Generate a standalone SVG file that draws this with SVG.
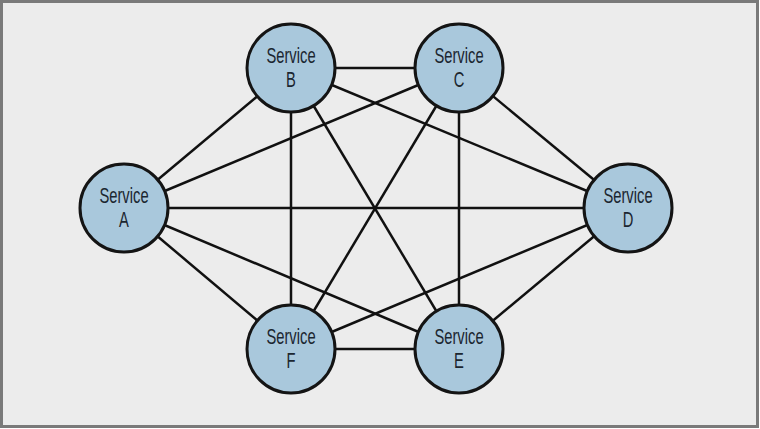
<svg xmlns="http://www.w3.org/2000/svg" width="760" height="429" viewBox="0 0 760 429">
<style>
.bg{fill:#ececec;stroke:#7a7a7a;stroke-width:3}
.edge{stroke:#111;stroke-width:2.5;fill:none}
.node circle{fill:#a9c8dc;stroke:#141414;stroke-width:3}
.node text{font-family:"Liberation Sans",Arial,sans-serif;font-size:22px;fill:#1b2630;text-anchor:middle}
</style>
<rect class="bg" x="1.5" y="1.5" width="756" height="425"/>
<g id="connectors">
<line class="edge" x1="124" y1="208" x2="291" y2="68"/>
<line class="edge" x1="124" y1="208" x2="459" y2="68"/>
<line class="edge" x1="124" y1="208" x2="628" y2="208"/>
<line class="edge" x1="124" y1="208" x2="291" y2="349"/>
<line class="edge" x1="124" y1="208" x2="459" y2="349"/>
<line class="edge" x1="291" y1="68" x2="459" y2="68"/>
<line class="edge" x1="291" y1="68" x2="628" y2="208"/>
<line class="edge" x1="291" y1="68" x2="291" y2="349"/>
<line class="edge" x1="291" y1="68" x2="459" y2="349"/>
<line class="edge" x1="459" y1="68" x2="628" y2="208"/>
<line class="edge" x1="459" y1="68" x2="291" y2="349"/>
<line class="edge" x1="459" y1="68" x2="459" y2="349"/>
<line class="edge" x1="628" y1="208" x2="291" y2="349"/>
<line class="edge" x1="628" y1="208" x2="459" y2="349"/>
<line class="edge" x1="291" y1="349" x2="459" y2="349"/>
</g>
<g id="node-a" class="node"><circle cx="124" cy="208" r="44"/><g transform="translate(124 208) scale(0.67 1)"><text x="0" y="-5">Service</text><text x="0" y="19">A</text></g></g>
<g id="node-b" class="node"><circle cx="291" cy="68" r="44"/><g transform="translate(291 68) scale(0.67 1)"><text x="0" y="-5">Service</text><text x="0" y="19">B</text></g></g>
<g id="node-c" class="node"><circle cx="459" cy="68" r="44"/><g transform="translate(459 68) scale(0.67 1)"><text x="0" y="-5">Service</text><text x="0" y="19">C</text></g></g>
<g id="node-d" class="node"><circle cx="628" cy="208" r="44"/><g transform="translate(628 208) scale(0.67 1)"><text x="0" y="-5">Service</text><text x="0" y="19">D</text></g></g>
<g id="node-f" class="node"><circle cx="291" cy="349" r="44"/><g transform="translate(291 349) scale(0.67 1)"><text x="0" y="-5">Service</text><text x="0" y="19">F</text></g></g>
<g id="node-e" class="node"><circle cx="459" cy="349" r="44"/><g transform="translate(459 349) scale(0.67 1)"><text x="0" y="-5">Service</text><text x="0" y="19">E</text></g></g>
</svg>
